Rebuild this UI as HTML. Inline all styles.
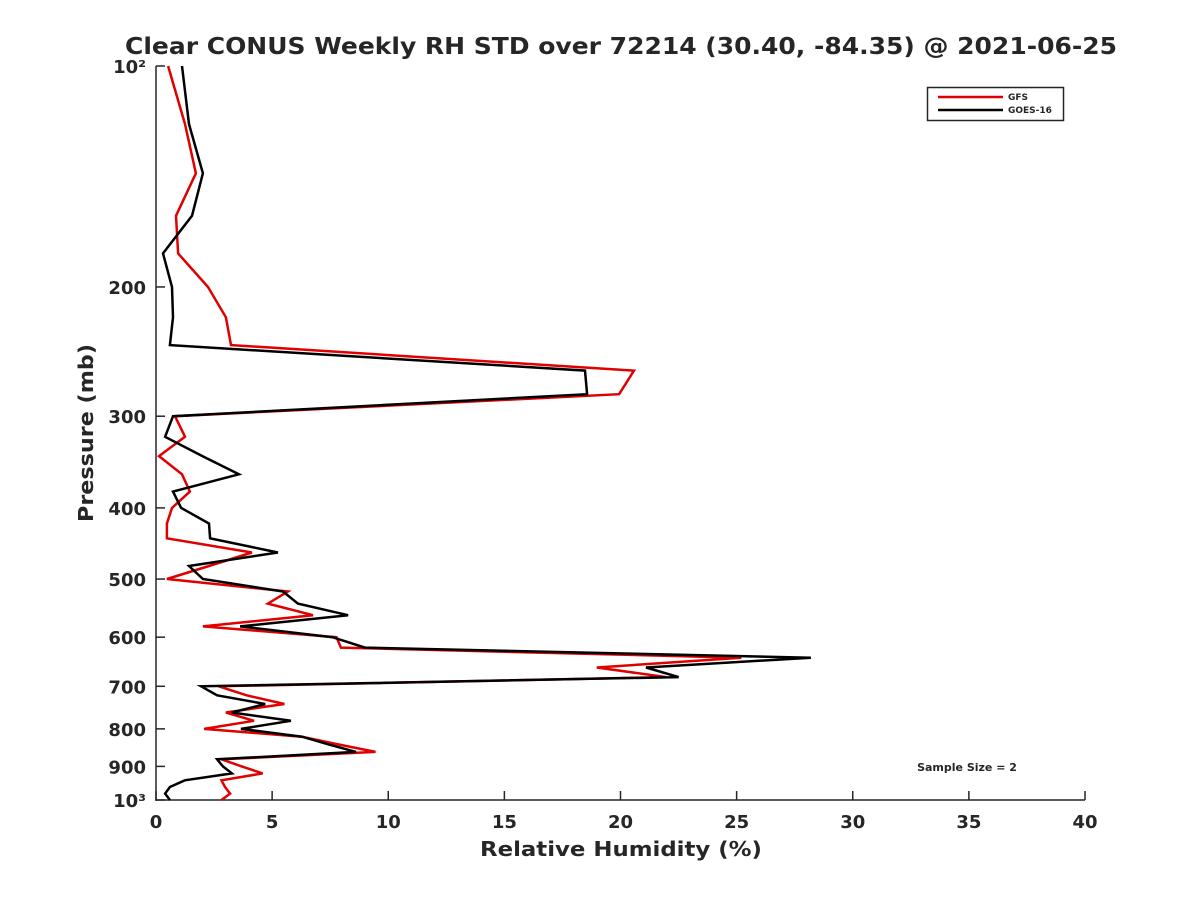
<!DOCTYPE html>
<html><head><meta charset="utf-8"><style>
body{margin:0;background:#fff;}
svg text{font-family:"DejaVu Sans","Liberation Sans",sans-serif;font-weight:bold;fill:#262626;}
</style></head><body>
<svg id="chart" width="1200" height="900" xmlns="http://www.w3.org/2000/svg">
<rect width="1200" height="900" fill="#fff"/>
<text x="621" y="54" font-size="23" text-anchor="middle" fill="#000" textLength="992" lengthAdjust="spacingAndGlyphs">Clear CONUS Weekly RH STD over 72214 (30.40, -84.35) @ 2021-06-25</text>
<g id="axes"></g>
<g id="series"></g>
<text x="621" y="856" font-size="20" text-anchor="middle" textLength="282" lengthAdjust="spacingAndGlyphs">Relative Humidity (%)</text>
<text transform="translate(93,433) rotate(-90)" font-size="20" text-anchor="middle" textLength="178" lengthAdjust="spacingAndGlyphs">Pressure (mb)</text>
<g>
<rect x="927.5" y="87.5" width="136" height="33" fill="#fff" stroke="#262626" stroke-width="1.5"/>
<line x1="938" y1="97" x2="1003" y2="97" stroke="#e00000" stroke-width="2.5"/>
<text x="1008" y="100" font-size="9">GFS</text>
<line x1="938" y1="110" x2="1003" y2="110" stroke="#000" stroke-width="2.5"/>
<text x="1008" y="113" font-size="9">GOES-16</text>
</g>
<text x="967" y="771" font-size="11" text-anchor="middle" fill="#000">Sample Size = 2</text>
</svg>
<script>
const levels=[100,120,140,160,180,200,220,240,260,280,300,320,340,360,380,400,420,440,460,480,500,520,540,560,580,600,620,640,660,680,700,720,740,760,780,800,820,840,860,880,900,920,940,960,980,1000];
const gfsValues=[0.52,1.25,1.72,0.86,0.95,2.24,3.01,3.23,20.58,19.94,0.82,1.25,0.13,1.12,1.46,0.69,0.47,0.47,4.13,2.28,0.47,5.68,4.82,6.76,2.02,7.77,7.96,25.2,18.98,21.96,2.7,3.9,5.53,3.01,4.22,2.07,6.28,7.84,9.45,2.82,3.69,4.59,2.82,2.97,3.19,2.82];
const goesValues=[1.12,1.42,2.02,1.55,0.30,0.69,0.73,0.60,18.47,18.56,0.73,0.39,2.0,3.57,0.73,1.08,2.28,2.33,5.25,1.42,2.02,5.47,6.11,8.27,3.62,7.6,9.0,28.2,21.1,22.5,1.94,2.63,4.70,3.27,5.81,3.66,6.29,7.43,8.61,2.63,2.88,3.27,1.24,0.6,0.39,0.6];
const xTicks=[0,5,10,15,20,25,30,35,40];
const yTicks=[100,200,300,400,500,600,700,800,900,1000];
const yTickLabels=["10²","200","300","400","500","600","700","800","900","10³"];

const L=156,R=1085,T=66,B=800;
const xs=v=>L+(v-0)/(40-0)*(R-L);
const ys=p=>T+Math.log10(p/100)*(B-T);
const NS="http://www.w3.org/2000/svg";
const axes=document.getElementById('axes');
function mk(tag,attrs,parent){const e=document.createElementNS(NS,tag);for(const k in attrs)e.setAttribute(k,attrs[k]);parent.appendChild(e);return e;}
let e=mk('line',{x1:L,y1:T,x2:L,y2:B+1,stroke:'#262626','stroke-width':1.5},axes);


e=mk('line',{x1:L,y1:B,x2:R,y2:B,stroke:'#262626','stroke-width':1.5},axes);


xTicks.forEach(t=>{
  const x=xs(t);
  let tk=mk('line',{x1:x,y1:B,x2:x,y2:B-9,stroke:'#262626','stroke-width':1.5},axes);
  
  
  let tx=mk('text',{x:x,y:B+28,'font-size':18,'text-anchor':'middle'},axes);
  tx.textContent=t;
  
  
});
yTicks.forEach((t,i)=>{
  const y=ys(t);
  let tk=mk('line',{x1:L,y1:y,x2:L+9,y2:y,stroke:'#262626','stroke-width':1.5},axes);
  
  
  let tx=mk('text',{x:L-10,y:y+7,'font-size':18,'text-anchor':'end'},axes);
  tx.textContent=yTickLabels[i];
  
  
});
const ser=document.getElementById('series');
function draw(vals,color,name){
  const pts=vals.map((v,i)=>xs(v).toFixed(1)+','+ys(levels[i]).toFixed(1)).join(' ');
  const pl=mk('polyline',{points:pts,fill:'none',stroke:color,'stroke-width':2.5,'stroke-linejoin':'miter'},ser);
  
  
}
draw(gfsValues,'#e00000','gfs-line');
draw(goesValues,'#000','goes16-line');
</script>
</body></html>
